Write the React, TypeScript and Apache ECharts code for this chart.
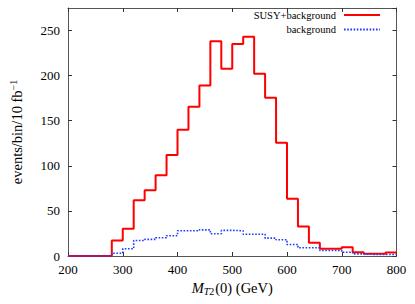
import React, { useEffect, useRef } from "react";
import * as echarts from "echarts";

// Bin left edges (GeV), 20 GeV bins from 200 to 800
const binEdges = [
  200, 220, 240, 260, 280, 300, 320, 340, 360, 380, 400, 420, 440, 460, 480,
  500, 520, 540, 560, 580, 600, 620, 640, 660, 680, 700, 720, 740, 760, 780,
];
const binUpper = 800;

const susyPlusBackground = [
  0, 0, 0, 0, 17.2, 30.3, 61.7, 72.9, 89.5, 112, 140, 165.5, 189, 238, 207.5,
  235, 243, 202, 175.5, 125.5, 63.6, 32.8, 14.7, 8, 8, 9.8, 4.2, 2.4, 2.4, 3.9,
];
const background = [
  0, 0, 0, 0, 3.1, 8, 17.2, 18.4, 20.2, 22.5, 28, 28, 29, 24.7, 28.4,
  28, 24.2, 24.2, 19.8, 18, 12.8, 9.1, 9.1, 6.1, 6.1, 4.2, 2.4, 1.7, 1.7, 1.7,
];

const seriesNames = ["SUSY+background", "background"];
const xTicks = { min: 200, max: 800, interval: 100 };
const yTicks = { min: 0, max: 275, interval: 50 };

const FONT = "Liberation Serif";

function histPoints(vals: number[]) {
  const pts = binEdges.map((x, i) => [x, vals[i]]);
  pts.push([binUpper, vals[vals.length - 1]]);
  return pts;
}

export default function App() {
  const ref = useRef<HTMLDivElement>(null);
  useEffect(() => {
    if (!ref.current) return;
    const chart = echarts.init(ref.current, null, { renderer: "svg" });
    const frame = "#555555";
    const tickStyle = { color: "#333333", width: 1 };
    const baseX = {
      type: "value",
      min: xTicks.min,
      max: xTicks.max,
      interval: xTicks.interval,
      splitLine: { show: false },
      axisLine: { show: true, onZero: false, lineStyle: { color: frame, width: 1 } },
      axisTick: { show: true, inside: true, length: 4, lineStyle: tickStyle },
    };
    const baseY = {
      type: "value",
      min: yTicks.min,
      max: yTicks.max,
      interval: yTicks.interval,
      splitLine: { show: false },
      axisLine: { show: true, onZero: false, lineStyle: { color: frame, width: 1 } },
      axisTick: { show: true, inside: true, length: 4, lineStyle: tickStyle },
    };
    const legendBase = {
      right: 34,
      align: "right",
      padding: 0,
      itemWidth: 36,
      itemHeight: 14,
      itemStyle: { opacity: 0 },
      textStyle: { fontFamily: FONT, fontSize: 10.5, color: "#000", padding: [0, 3, 0, 0] },
      selectedMode: false,
    };
    chart.setOption({
      animation: false,
      backgroundColor: "#ffffff",
      grid: { left: 66, right: 18.5, top: 8, bottom: 48 },
      legend: [
        { ...legendBase, data: [seriesNames[0]], top: 9.5 },
        { ...legendBase, data: [seriesNames[1]], top: 24 },
      ],
      xAxis: [
        {
          ...baseX,
          position: "bottom",
          axisLabel: { color: "#000", fontFamily: FONT, fontSize: 13, margin: 7 },
          name: "{m|M}{s|T}{n|2}{t|(0) (GeV)}",
          nameLocation: "middle",
          nameGap: 22,
          nameTextStyle: {
            color: "#000",
            fontFamily: FONT,
            fontSize: 14,
            rich: {
              m: { fontFamily: FONT, fontSize: 14.5, fontStyle: "italic", lineHeight: 17, color: "#000" },
              s: { fontFamily: FONT, fontSize: 10, fontStyle: "italic", verticalAlign: "bottom", lineHeight: 10, color: "#000" },
              n: { fontFamily: FONT, fontSize: 10, verticalAlign: "bottom", lineHeight: 10, color: "#000", padding: [0, 1, 0, 0] },
              t: { fontFamily: FONT, fontSize: 14.5, lineHeight: 17, color: "#000" },
            },
          },
        },
        {
          ...baseX,
          position: "top",
          axisLabel: { show: false },
        },
      ],
      yAxis: [
        {
          ...baseY,
          position: "left",
          axisLabel: {
            color: "#000",
            fontFamily: FONT,
            fontSize: 13,
            margin: 8,
            showMaxLabel: false,
          },
          name: "{t|events/bin/10 fb}{p|−1}",
          nameLocation: "middle",
          nameRotate: 90,
          nameGap: 43,
          nameTextStyle: {
            color: "#000",
            fontFamily: FONT,
            fontSize: 14,
            rich: {
              t: { fontFamily: FONT, fontSize: 14.5, lineHeight: 17, color: "#000" },
              p: { fontFamily: FONT, fontSize: 10, verticalAlign: "top", lineHeight: 10, color: "#000" },
            },
          },
        },
        {
          ...baseY,
          position: "right",
          axisLabel: { show: false },
        },
      ],
      series: [
        {
          name: seriesNames[0],
          type: "line",
          step: "end",
          xAxisIndex: 0,
          yAxisIndex: 0,
          symbol: "none",
          clip: false,
          data: histPoints(susyPlusBackground),
          lineStyle: { color: "#ff0000", width: 2 },
          itemStyle: { color: "#ff0000" },
          z: 2,
        },
        {
          name: seriesNames[1],
          type: "line",
          step: "end",
          xAxisIndex: 0,
          yAxisIndex: 0,
          symbol: "none",
          clip: false,
          data: histPoints(background),
          lineStyle: { color: "#1f3cff", width: 1.6, type: [1.6, 1.6] },
          itemStyle: { color: "#1f3cff" },
          z: 3,
        },
      ],
    });
    return () => chart.dispose();
  }, []);
  return <div ref={ref} style={{ width: 415, height: 304, position: "absolute", left: 0, top: 0 }} />;
}
